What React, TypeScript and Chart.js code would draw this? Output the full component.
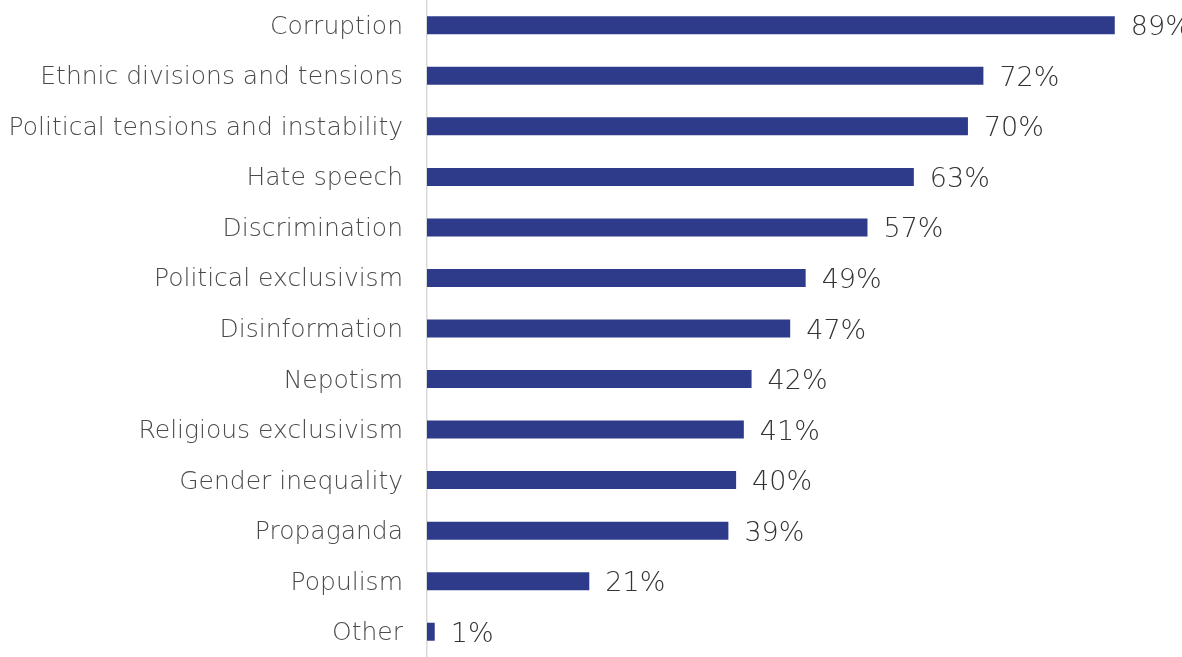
import React, { useEffect, useRef } from "react";
import { Chart, registerables } from "chart.js";

Chart.register(...registerables);

const categories = [
  "Corruption",
  "Ethnic divisions and tensions",
  "Political tensions and instability",
  "Hate speech",
  "Discrimination",
  "Political exclusivism",
  "Disinformation",
  "Nepotism",
  "Religious exclusivism",
  "Gender inequality",
  "Propaganda",
  "Populism",
  "Other",
];
const values = [89, 72, 70, 63, 57, 49, 47, 42, 41, 40, 39, 21, 1];

const FONT = "'DejaVu Sans', sans-serif";

const valueLabels = {
  id: "valueLabels",
  afterDatasetsDraw(chart: any) {
    const ctx = chart.ctx;
    const meta = chart.getDatasetMeta(0);
    ctx.save();
    ctx.font = `200 27px ${FONT}`;
    ctx.fillStyle = "#333333";
    ctx.textAlign = "left";
    ctx.textBaseline = "middle";
    meta.data.forEach((bar: any, i: number) => {
      ctx.fillText(values[i] + "%", bar.x + 16, bar.y + 3);
    });
    ctx.restore();
  },
};

export default function App() {
  const ref = useRef<HTMLCanvasElement>(null);
  useEffect(() => {
    document.body.style.margin = "0";
    const chart = new Chart(ref.current!, {
      type: "bar",
      data: {
        labels: categories,
        datasets: [
          {
            data: values,
            backgroundColor: "#2E3B8B",
            borderWidth: 0,
            categoryPercentage: 1,
            barPercentage: 0.356,
          },
        ],
      },
      options: {
        indexAxis: "y",
        animation: false,
        responsive: false,
        maintainAspectRatio: false,
        layout: { padding: 0 },
        plugins: { legend: { display: false }, tooltip: { enabled: false } },
        scales: {
          x: { display: false, min: 0, max: 97.7 },
          y: {
            afterFit(scale: any) {
              scale.width = 427;
              scale.paddingTop = 0;
              scale.paddingBottom = 0;
            },
            grid: { display: false, drawTicks: false },
            border: { display: true, color: "#d9d9d9", width: 1.5 },
            ticks: {
              padding: 24,
              autoSkip: false,
              labelOffset: 2,
              color: "#4a4a4a",
              font: { family: FONT, size: 25, weight: "200" as any },
            },
          },
        },
      },
      plugins: [valueLabels],
    });
    return () => chart.destroy();
  }, []);
  return (
    <div style={{ width: 1182, height: 657 }}>
      <canvas ref={ref} width={1182} height={657} />
    </div>
  );
}
